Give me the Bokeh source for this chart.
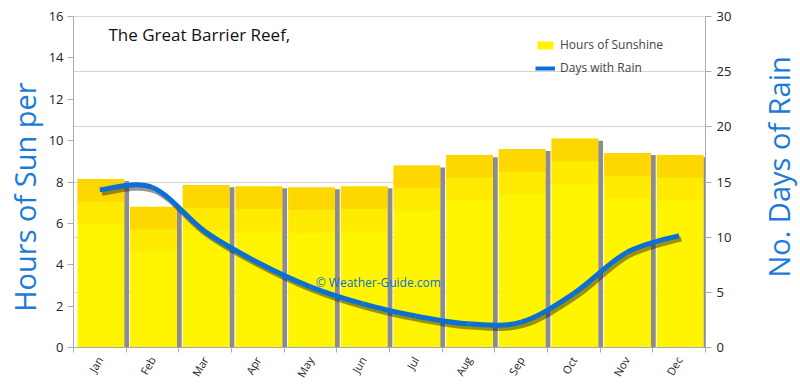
from bokeh.plotting import figure
from bokeh.models import (Range1d, LinearAxis, FixedTicker, Label, Legend, LegendItem)
from bokeh.layouts import row
from bokeh.embed import file_html
from bokeh.resources import INLINE
import math

months = ["Jan", "Feb", "Mar", "Apr", "May", "Jun", "Jul", "Aug", "Sep", "Oct", "Nov", "Dec"]
sun_hours = [8.15, 6.8, 7.85, 7.8, 7.75, 7.8, 8.8, 9.3, 9.6, 10.1, 9.4, 9.3]
rain_days = [14.3, 14.5, 10.5, 7.7, 5.5, 3.95, 2.85, 2.15, 2.3, 4.9, 8.6, 10.15]
left_ticks = [0, 2, 4, 6, 8, 10, 12, 14, 16]
right_ticks = [0, 5, 10, 15, 20, 25, 30]

FONT = "Open Sans"
BLUE = "#0b6fd6"
LBL = "#1c7ad8"
NB = "\u00a0"

p = figure(width=755, height=387, x_range=Range1d(0, 12), y_range=Range1d(0, 16),
           output_backend="svg", toolbar_location=None,
           min_border_left=73, min_border_right=50, min_border_top=16, min_border_bottom=40)
p.extra_y_ranges = {"rain": Range1d(0, 30)}
p.outline_line_color = "#d9d9d9"
p.background_fill_color = "white"

# grid at right-axis positions
p.xgrid.visible = False
p.ygrid.ticker = FixedTicker(ticks=[r * 16 / 30 for r in right_ticks])
p.ygrid.grid_line_color = "#d4d4d4"

centers = [i + 0.5 for i in range(len(months))]

# bars
bars = p.vbar(x=[c + 0.02 for c in centers], top=sun_hours, width=0.89, bottom=0,
              fill_color="#fff500", line_color=None)
# shadow strip on right of bars
p.vbar(x=[c + 0.02 + 0.445 + 0.045 for c in centers], top=[v - 0.1 for v in sun_hours],
       width=0.09, fill_color="#8c8c8c", line_color=None)
# orange band near top
p.vbar(x=[c + 0.02 for c in centers], top=sun_hours, bottom=[v - 1.1 for v in sun_hours],
       width=0.89, fill_color="#ffb400", fill_alpha=0.45, line_color=None)
p.vbar(x=[c + 0.02 for c in centers], top=[v - 1.1 for v in sun_hours],
       bottom=[v - 2.2 for v in sun_hours],
       width=0.89, fill_color="#ffc800", fill_alpha=0.22, line_color=None)

# smooth rain line (Catmull-Rom -> Bezier)
n = len(rain_days)
x0, y0, x1, y1, cx0, cy0, cx1, cy1 = [], [], [], [], [], [], [], []
for i in range(n - 1):
    pm = max(i - 1, 0)
    pp = min(i + 2, n - 1)
    x0.append(centers[i]); y0.append(rain_days[i])
    x1.append(centers[i + 1]); y1.append(rain_days[i + 1])
    cx0.append(centers[i] + (centers[i + 1] - centers[pm]) / 6)
    cy0.append(rain_days[i] + (rain_days[i + 1] - rain_days[pm]) / 6)
    cx1.append(centers[i + 1] - (centers[pp] - centers[i]) / 6)
    cy1.append(rain_days[i + 1] - (rain_days[pp] - rain_days[i]) / 6)

dx, dy = 0.04, -0.3
p.bezier(x0=[v + dx for v in x0], y0=[v + dy for v in y0], x1=[v + dx for v in x1],
         y1=[v + dy for v in y1], cx0=[v + dx for v in cx0], cy0=[v + dy for v in cy0],
         cx1=[v + dx for v in cx1], cy1=[v + dy for v in cy1],
         line_color="#1a1a1a", line_alpha=0.45, line_width=5, y_range_name="rain")
p.bezier(x0=x0, y0=y0, x1=x1, y1=y1, cx0=cx0, cy0=cy0, cx1=cx1, cy1=cy1,
         line_color=BLUE, line_width=5, y_range_name="rain")
rain_legend = p.line(x=[centers[0]], y=[rain_days[0]], line_color=BLUE, line_width=4,
                     y_range_name="rain")

# axes
xa = p.xaxis[0]
xa.ticker = FixedTicker(ticks=centers, minor_ticks=list(range(13)))
xa.major_label_overrides = {c: m for c, m in zip(centers, months)}
xa.major_label_orientation = math.pi / 3.0
xa.major_tick_out = 0
xa.major_tick_in = 0
xa.minor_tick_out = 5
xa.minor_tick_in = 0
xa.minor_tick_line_color = "#aaaaaa"
xa.axis_line_color = "#aaaaaa"
xa.major_label_text_font = FONT
xa.major_label_text_font_size = "11px"
xa.major_label_text_color = "#222222"

ya = p.yaxis[0]
ya.ticker = FixedTicker(ticks=left_ticks)
ya.axis_label = "Hours of Sun per" + NB * 4
ya.axis_label_text_font = FONT
ya.axis_label_text_font_style = "normal"
ya.axis_label_text_font_size = "29px"
ya.axis_label_text_color = LBL
ya.axis_label_standoff = 2
ya.major_label_standoff = 4
ya.major_label_text_font = FONT
ya.major_label_text_font_size = "13px"
ya.major_label_text_color = "#222222"
ya.major_tick_out = 6
ya.major_tick_in = 0
ya.minor_tick_out = 0
ya.minor_tick_in = 0
ya.axis_line_color = "#aaaaaa"
ya.major_tick_line_color = "#aaaaaa"

ra = LinearAxis(y_range_name="rain", ticker=FixedTicker(ticks=right_ticks))
ra.major_label_text_font = FONT
ra.major_label_text_font_size = "13px"
ra.major_label_text_color = "#222222"
ra.major_tick_out = 6
ra.major_tick_in = 0
ra.minor_tick_out = 0
ra.minor_tick_in = 0
ra.axis_line_color = "#aaaaaa"
ra.major_tick_line_color = "#aaaaaa"
p.add_layout(ra, "right")

# title & watermark
p.add_layout(Label(x=35, y=302, x_units="screen", y_units="screen",
                   text="The Great Barrier Reef,", text_font=FONT,
                   text_font_size="17px", text_color="#111111"))
p.add_layout(Label(x=4.6, y=2.75, text="© Weather-Guide.com", text_font=FONT,
                   text_font_size="12px", text_color=BLUE))

legend = Legend(items=[LegendItem(label="Hours of Sunshine", renderers=[bars]),
                       LegendItem(label="Days with Rain", renderers=[rain_legend])],
                location=(462, 271), border_line_color=None, background_fill_alpha=0,
                label_text_font=FONT, label_text_font_size="12px",
                glyph_width=20, glyph_height=10, spacing=6, padding=4)
p.add_layout(legend)

# narrow companion figure carrying the right-hand axis title (reads bottom to top)
p2 = figure(width=45, height=387, x_range=Range1d(0, 1), y_range=Range1d(0, 1),
            output_backend="svg", toolbar_location=None,
            min_border_left=24, min_border_right=0, min_border_top=16, min_border_bottom=40)
p2.outline_line_color = None
p2.grid.visible = False
p2.xaxis.visible = False
a2 = p2.yaxis[0]
a2.ticker = FixedTicker(ticks=[])
a2.axis_line_color = None
a2.major_tick_out = 0
a2.major_tick_in = 0
a2.minor_tick_out = 0
a2.minor_tick_in = 0
a2.major_label_standoff = 0
a2.axis_label = NB * 4 + "No. Days of Rain"
a2.axis_label_standoff = 0
a2.axis_label_text_font = FONT
a2.axis_label_text_font_style = "normal"
a2.axis_label_text_font_size = "29px"
a2.axis_label_text_color = LBL

layout = row(p, p2)
open("out.html", "w").write(file_html(layout, INLINE))
